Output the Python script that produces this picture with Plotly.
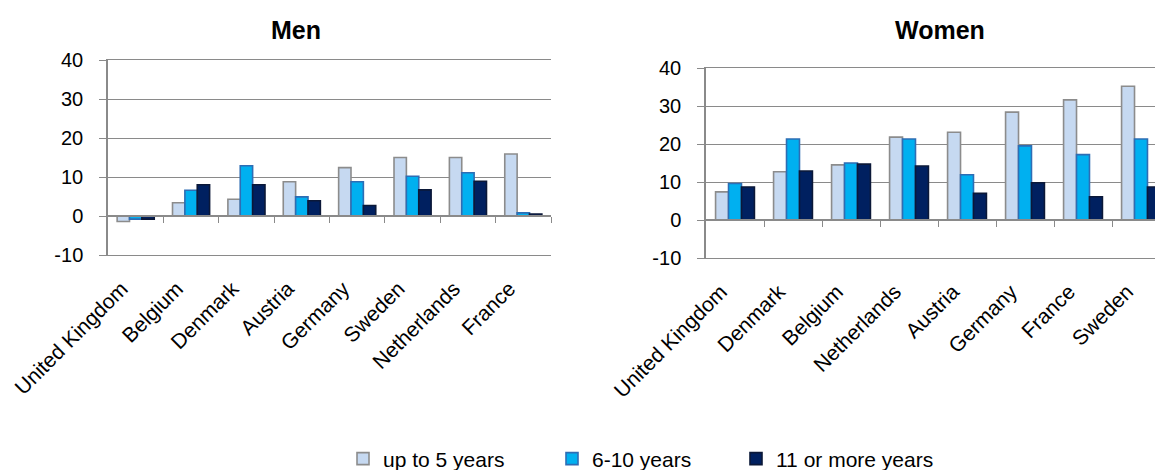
import plotly.graph_objects as go

# Countries in plotted order for each panel
men_countries = ["United Kingdom", "Belgium", "Denmark", "Austria", "Germany",
                 "Sweden", "Netherlands", "France"]
women_countries = ["United Kingdom", "Denmark", "Belgium", "Netherlands", "Austria",
                   "Germany", "France", "Sweden"]

series_names = ["up to 5 years", "6-10 years", "11 or more years"]

# Men
men_up_to_5 = [-1.4, 3.4, 4.3, 8.8, 12.4, 15.0, 15.0, 15.9]
men_6_10 = [-0.8, 6.6, 12.9, 4.9, 8.8, 10.2, 11.1, 0.8]
men_11_plus = [-0.8, 8.0, 8.0, 3.9, 2.7, 6.7, 8.9, 0.5]

# Women
women_up_to_5 = [7.4, 12.7, 14.5, 21.8, 23.1, 28.4, 31.6, 35.2]
women_6_10 = [9.6, 21.3, 15.0, 21.3, 11.9, 19.5, 17.2, 21.3]
women_11_plus = [8.7, 12.9, 14.7, 14.2, 7.0, 9.8, 6.1, 8.7]

y_ticks = [-10, 0, 10, 20, 30, 40]
y_tick_labels = ["-10", "0", "10", "20", "30", "40"]

fills = ["#c6d9f1", "#00b0f0", "#002060"]
outlines = ["#8c8c8c", "#2e6db4", "#0b1838"]

FONT = "Liberation Sans, Arial, sans-serif"
GRID = "#8a8a8a"

W, H = 1155, 470


def px_x(p):
    return p / W


def px_y(p):
    return 1 - p / H


fig = go.Figure()

men_series = [men_up_to_5, men_6_10, men_11_plus]
women_series = [women_up_to_5, women_6_10, women_11_plus]
legend_ids = ["legend", "legend2", "legend3"]

for i, name in enumerate(series_names):
    fig.add_trace(go.Bar(
        x=men_countries, y=men_series[i], name=name,
        marker=dict(color=fills[i], line=dict(color=outlines[i], width=1.6)),
        xaxis="x", yaxis="y", legend=legend_ids[i], showlegend=True,
    ))
for i, name in enumerate(series_names):
    fig.add_trace(go.Bar(
        x=women_countries, y=women_series[i], name=name,
        marker=dict(color=fills[i], line=dict(color=outlines[i], width=1.6)),
        xaxis="x2", yaxis="y2", showlegend=False,
    ))

# Empty helper traces so the zero-line separator axes get drawn
fig.add_trace(go.Scatter(x=[], y=[], xaxis="x3", yaxis="y", showlegend=False,
                         hoverinfo="skip"))
fig.add_trace(go.Scatter(x=[], y=[], xaxis="x4", yaxis="y2", showlegend=False,
                         hoverinfo="skip"))

# Panel geometry (pixels)
men_left, men_right, men_top, men_bottom = 108, 551, 60, 255
wom_left, wom_right, wom_top, wom_bottom = 706, 1155, 68, 258
wom_cat_w = 58.0
wom_xmax = -0.5 + (wom_right - wom_left) / wom_cat_w

ymin, ymax = -10, 40


def zero_pos(top, bottom):
    frac = (0 - ymin) / (ymax - ymin)
    return px_y(bottom) + frac * (px_y(top) - px_y(bottom))


yaxis_common = dict(
    range=[ymin, ymax], tickmode="array", tickvals=y_ticks, ticktext=y_tick_labels,
    showgrid=True, gridcolor=GRID, gridwidth=1.3, zeroline=False,
    showline=True, linecolor=GRID, linewidth=1.5,
    ticks="outside", ticklen=7, tickcolor=GRID, tickwidth=1.3,
    ticklabelstandoff=12,
    tickfont=dict(family=FONT, size=20, color="#000"),
    automargin=False, fixedrange=True,
)
xaxis_common = dict(
    type="category", showgrid=False, zeroline=False,
    showline=True, mirror=True, linecolor=GRID, linewidth=1.3,
    tickangle=-45, tickfont=dict(family=FONT, size=21, color="#000"),
    ticks="", ticklabelstandoff=12, ticklabelshift=-14,
    automargin=False, fixedrange=True,
)

# Category separators along the zero line
sep_common = dict(
    showgrid=False, zeroline=False, showline=True, linecolor=GRID, linewidth=1.5,
    ticks="outside", ticklen=6, tickcolor=GRID, tickwidth=1.3,
    showticklabels=False, tickmode="array", tickvals=[k + 0.5 for k in range(8)],
    automargin=False, fixedrange=True,
)

legend_common = dict(
    orientation="h", yref="container", yanchor="middle", y=1 - 459 / H,
    xref="container", xanchor="left",
    font=dict(family=FONT, size=21, color="#000"), itemwidth=30,
    bgcolor="rgba(0,0,0,0)", borderwidth=0,
)

fig.update_layout(
    template="none",
    width=W, height=H,
    margin=dict(l=0, r=0, t=0, b=0, autoexpand=False),
    paper_bgcolor="white", plot_bgcolor="white",
    barmode="group", bargap=0.33, bargroupgap=0.0,
    font=dict(family=FONT, color="#000"),
    xaxis=dict(domain=[px_x(men_left), px_x(men_right)], anchor="y",
               range=[-0.5, 7.5], **xaxis_common),
    yaxis=dict(domain=[px_y(men_bottom), px_y(men_top)], anchor="x", **yaxis_common),
    xaxis2=dict(domain=[px_x(wom_left), px_x(wom_right)], anchor="y2",
                range=[-0.5, wom_xmax], **xaxis_common),
    yaxis2=dict(domain=[px_y(wom_bottom), px_y(wom_top)], anchor="x2", **yaxis_common),
    xaxis3=dict(domain=[px_x(men_left), px_x(men_right)], anchor="free",
                position=zero_pos(men_top, men_bottom), overlaying="x",
                range=[-0.5, 7.5], **sep_common),
    xaxis4=dict(domain=[px_x(wom_left), px_x(wom_right)], anchor="free",
                position=zero_pos(wom_top, wom_bottom), overlaying="x2",
                range=[-0.5, wom_xmax], **sep_common),
    legend=dict(x=px_x(343), **legend_common),
    legend2=dict(x=px_x(552), **legend_common),
    legend3=dict(x=px_x(736), **legend_common),
    annotations=[
        dict(text="<b>Men</b>", x=px_x(296), y=px_y(30), xref="paper", yref="paper",
             xanchor="center", yanchor="middle", showarrow=False,
             font=dict(family=FONT, size=25, color="#000")),
        dict(text="<b>Women</b>", x=px_x(940), y=px_y(30), xref="paper", yref="paper",
             xanchor="center", yanchor="middle", showarrow=False,
             font=dict(family=FONT, size=25, color="#000")),
    ],
)

fig.write_html("out.html")
